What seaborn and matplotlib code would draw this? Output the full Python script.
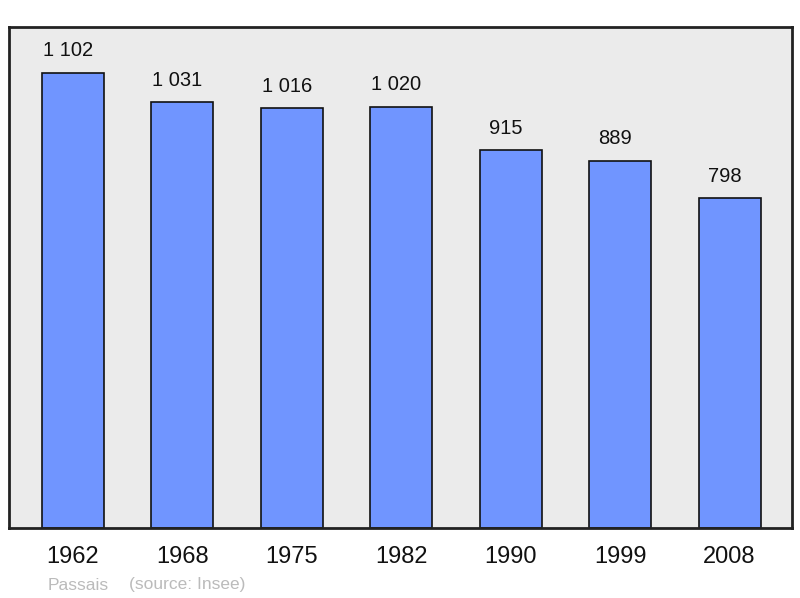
import pandas as pd
import numpy as np
import matplotlib.pyplot as plt
import seaborn as sns

years = ['1962', '1968', '1975', '1982', '1990', '1999', '2008']
population = [1102, 1031, 1016, 1020, 915, 889, 798]
labels = ['1 102', '1 031', '1 016', '1 020', '915', '889', '798']

df = pd.DataFrame({'year': years, 'pop': population})

sns.set_style('white')
plt.rcParams['font.family'] = ['Liberation Sans', 'DejaVu Sans']

fig = plt.figure(figsize=(8, 5.98), dpi=100)
ax = fig.add_axes([9 / 800, 70 / 598, 783 / 800, 501 / 598])
ax.set_facecolor('#ebebeb')

sns.barplot(data=df, x='year', y='pop', color='#7095ff', saturation=1,
            width=0.566, edgecolor='#111111', linewidth=1.2, ax=ax)

# value labels sit a little left of the bar centre, like the original
for i, (v, t) in enumerate(zip(population, labels)):
    ax.text(i - 0.045, v + 53, t, ha='center', va='center', fontsize=14.5, color='#111111')

ax.set_xlim(-0.585, 6.57)
ax.set_ylim(0, 1213)
ax.set_xlabel('')
ax.set_ylabel('')
ax.set_yticks([])
ax.tick_params(axis='x', length=0, pad=13, labelsize=17, labelcolor='#111111')
for s in ax.spines.values():
    s.set_visible(True)
    s.set_color('#222222')
    s.set_linewidth(2)

fig.text(48 / 800, 1 - 585 / 598, 'Passais', fontsize=12.5, color='#bbbbbb', va='center')
fig.text(129 / 800, 1 - 585 / 598, '(source: Insee)', fontsize=12.5, color='#bbbbbb', va='center')

fig.savefig('out.png', dpi=100)
